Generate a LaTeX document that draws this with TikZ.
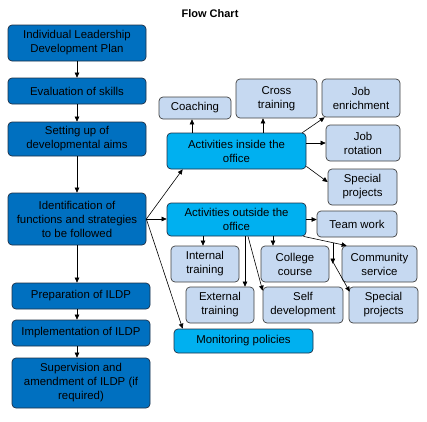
\documentclass[tikz,border=0pt]{standalone}
\usepackage{fontspec}
\setmainfont{Liberation Sans}
\usetikzlibrary{arrows.meta,calc}
\definecolor{dblue}{HTML}{0070C0}
\definecolor{cyanb}{HTML}{00B0F0}
\definecolor{lblue}{HTML}{C6D9F1}
\definecolor{edge}{HTML}{1F2F45}
\begin{document}
\begin{tikzpicture}[x=1pt,y=-1pt,
  base/.style={rounded corners=4pt, draw=edge, line width=0.7pt, align=center, inner sep=0pt, font=\fontsize{11.4}{14}\selectfont},
  dark/.style={base, fill=dblue},
  mid/.style={base, fill=cyanb},
  light/.style={base, fill=lblue, draw=black!75},
  arr/.style={-{Triangle[length=5pt,width=4.5pt]}, line width=0.6pt}]
\useasboundingbox (0,0) rectangle (427,421);
\node[font=\fontsize{11}{13}\selectfont\bfseries] (title) at (210,14) {Flow Chart};
% left column
\node[dark, minimum width=138pt, minimum height=36pt] (ildp) at (77,43) {Individual Leadership\\Development Plan};
\node[dark, minimum width=138pt, minimum height=26pt] (eval) at (77,91) {Evaluation of skills};
\node[dark, minimum width=138pt, minimum height=34pt] (setup) at (77,139) {Setting up of\\developmental aims};
\node[dark, minimum width=138pt, minimum height=52pt] (ident) at (77,219) {Identification of\\functions and strategies\\to be followed};
\node[dark, minimum width=138pt, minimum height=26pt] (prep) at (81,296) {Preparation of ILDP};
\node[dark, minimum width=138pt, minimum height=26pt] (impl) at (81,333) {Implementation of ILDP};
\node[dark, minimum width=138pt, minimum height=50pt] (superv) at (81,383) {Supervision and\\amendment of ILDP (if\\required)};
% inside
\node[mid, minimum width=139pt, minimum height=36pt] (inside) at (236.5,151) {Activities inside the\\office};
\node[light, minimum width=72pt, minimum height=22pt] (coach) at (195,108) {Coaching};
\node[light, minimum width=81pt, minimum height=39pt] (cross) at (276.5,98.5) {Cross\\training};
\node[light, minimum width=78pt, minimum height=38pt] (jobenr) at (361,98) {Job\\enrichment};
\node[light, minimum width=74pt, minimum height=36pt] (jobrot) at (363,143) {Job\\rotation};
\node[light, minimum width=69pt, minimum height=36pt] (spec1) at (362.5,187) {Special\\projects};
% outside
\node[mid, minimum width=139pt, minimum height=33pt] (outside) at (236.5,219.5) {Activities outside the\\office};
\node[light, minimum width=80pt, minimum height=26pt] (team) at (357,224) {Team work};
\node[light, minimum width=68pt, minimum height=36pt] (internal) at (205,264) {Internal\\training};
\node[light, minimum width=68pt, minimum height=36pt] (college) at (295,264) {College\\course};
\node[light, minimum width=75pt, minimum height=36pt] (comm) at (379.5,264) {Community\\service};
\node[light, minimum width=68pt, minimum height=36pt] (external) at (220,305) {External\\training};
\node[light, minimum width=80pt, minimum height=36pt] (self) at (303,305) {Self\\development};
\node[light, minimum width=69pt, minimum height=36pt] (spec2) at (383.5,305) {Special\\projects};
\node[mid, minimum width=139pt, minimum height=24pt] (monit) at (243.5,341) {Monitoring policies};
% left column arrows
\draw[arr] (ildp) -- (eval);
\draw[arr] (eval) -- (setup);
\draw[arr] (setup) -- (ident);
\draw[arr] (ident.south) -- (ident.south |- prep.north);
\draw[arr] (prep.south -| ident.south) -- (impl.north -| ident.south);
\draw[arr] (impl.south -| ident.south) -- (superv.north -| ident.south);
% from identification
\draw[arr] (ident.east) -- ([xshift=16pt]inside.south west);
\draw[arr] (ident.east) -- (ident.east -| outside.west);
\draw[arr] (ident.east) -- ([xshift=9pt]monit.north west);
% inside arrows
\draw[arr] ([xshift=-3pt]coach.south |- inside.north) -- ([xshift=-3pt]coach.south);
\draw[arr] ([xshift=-13.5pt]cross.south |- inside.north) -- ([xshift=-13.5pt]cross.south);
\draw[arr] ([xshift=-4pt]inside.north east) -- ([xshift=3pt]jobenr.south west);
\draw[arr] (inside.east |- jobrot.west) -- (jobrot.west);
\draw[arr] ([yshift=3pt]inside.south east) -- ([yshift=5pt]spec1.west);
% outside arrows
\draw[arr] (outside.east) -- (outside.east -| team.west);
\draw[arr] ([xshift=-2pt]internal.north |- outside.south) -- ([xshift=-2pt]internal.north);
\draw[arr] ([xshift=-22pt]college.north |- outside.south) -- ([xshift=-22pt]college.north);
\draw[arr] ([xshift=25pt]external.north |- outside.south) -- ([xshift=25pt]external.north);
\draw[arr] ([xshift=11.5pt]outside.south) -- ([yshift=-4pt]self.north west);
\coordinate (cs) at ([xshift=-3pt]outside.south east);
\coordinate (ce) at ([xshift=5pt]comm.north west);
\draw[arr] (cs) -- (ce);
\coordinate (br) at ($(cs)!0.68!(ce)$);
\coordinate (bend) at ($(br)+(0,21)$);
\draw[arr] (br) -- (bend);
\draw[arr] ([yshift=2pt]bend) -- ([shift={(1pt,-5pt)}]spec2.north west);
\end{tikzpicture}
\end{document}
